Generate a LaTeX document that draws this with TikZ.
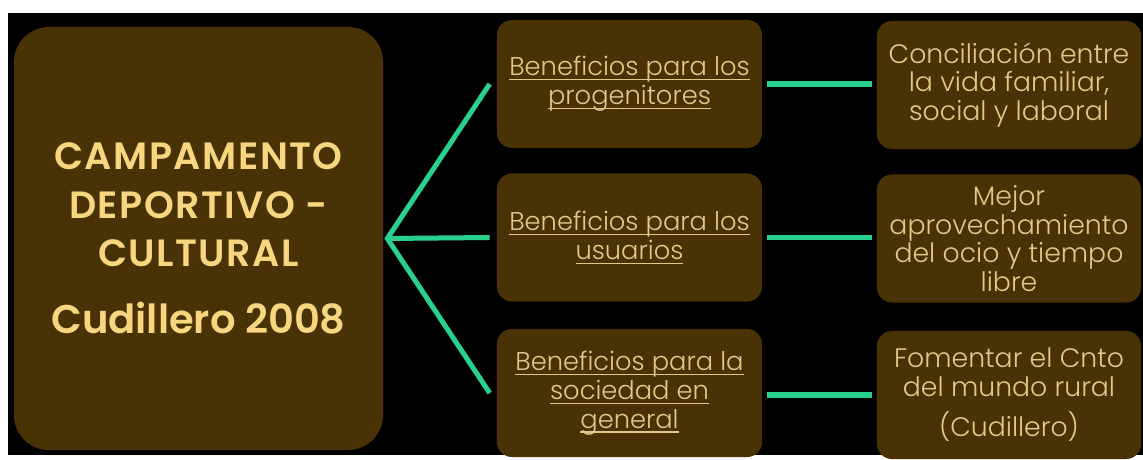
\documentclass[tikz,border=0pt]{standalone}
\usepackage{fontspec}
\setmainfont{Poppins}
\newfontfamily\thinfont{Poppins Light}
\newfontfamily\titlefont{Poppins SemiBold}
\newcommand\benul[1]{\setbox0\hbox{#1}\rlap{\rule[-3.2pt]{\wd0}{0.9pt}}\box0}
\definecolor{boxbrown}{RGB}{72,50,6}
\definecolor{titlegold}{RGB}{248,214,128}
\definecolor{textgold}{RGB}{228,200,138}
\definecolor{linkgreen}{RGB}{42,208,142}
\tikzset{
  mainbox/.style={fill=boxbrown, rounded corners=0.875cm, inner sep=0pt,
    minimum width=9.225cm, minimum height=10.575cm, align=center,
    text=titlegold, font=\titlefont\addfontfeatures{LetterSpace=4}\fontsize{27}{34.5}\selectfont},
  benbox/.style={fill=boxbrown, rounded corners=0.375cm, inner sep=0pt,
    minimum width=6.625cm, minimum height=3.2cm, align=center,
    text=textgold, font=\thinfont\fontsize{18.3}{20.5}\selectfont},
  resbox/.style={benbox, minimum width=6.6cm, font=\thinfont\fontsize{19}{20.5}\selectfont},
  fan/.style={draw=linkgreen, line width=0.125cm},
  link/.style={draw=linkgreen, line width=0.13cm}
}
\begin{document}
\begin{tikzpicture}[x=0.025cm, y=-0.025cm]
\fill[white] (0,0) rectangle (1143,455);
\fill[black] (8,13) rectangle (1143,455);
% centre box
\node[mainbox] (camp) at (198.5,238.5) {CAMPAMENTO\\DEPORTIVO -\\CULTURAL\\[13pt]
  {\titlefont\fontsize{28.5}{35}\selectfont Cudillero 2008}};
% benefits
\node[benbox] (ben1) at (629.5,84) {\benul{Beneficios para los}\\\benul{progenitores}};
\node[benbox] (ben2) at (629.5,237.5) {\benul{Beneficios para los}\\\benul{usuarios}};
\node[benbox] (ben3) at (629.5,393) {\benul{Beneficios para la}\\\benul{sociedad en}\\\benul{general}};
% results
\node[resbox] (res1) at (1009,85) {Conciliación entre\\la vida familiar,\\social y laboral};
\node[resbox] (res2) at (1009,238.5) {Mejor\\aprovechamiento\\del ocio y tiempo\\libre};
\node[resbox] (res3) at (1009,395) {Fomentar el Cnto\\del mundo rural\\[8pt](Cudillero)};
% connectors
\coordinate (hub) at ([xshift=0.1cm]camp.east);
\draw[fan] ([xshift=-0.175cm]ben1.west) -- (hub) -- ([xshift=-0.175cm]ben3.west);
\draw[fan] (hub) -- ([xshift=-0.175cm]ben2.west);
\draw[link] ([xshift=0.125cm]ben1.east) -- ([xshift=-0.125cm]ben1.east -| res1.west);
\draw[link] ([xshift=0.125cm]ben2.east) -- ([xshift=-0.125cm]ben2.east -| res2.west);
\draw[link] ([xshift=0.125cm,yshift=-0.05cm]ben3.east) -- ([xshift=-0.125cm,yshift=-0.05cm]ben3.east -| res3.west);
\end{tikzpicture}
\end{document}
